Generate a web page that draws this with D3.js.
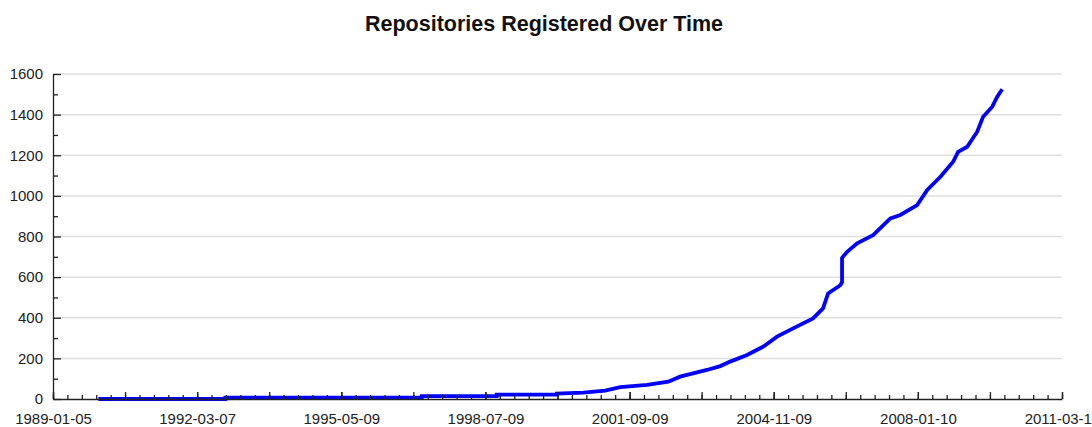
<!DOCTYPE html>
<html>
<head>
<meta charset="utf-8">
<script src="https://cdn.jsdelivr.net/npm/d3@7"></script>
<style>
  html, body { margin: 0; padding: 0; background: #fff; overflow: hidden; }
  svg { display: block; font-family: "Liberation Sans", Arial, sans-serif; }
</style>
</head>
<body>
<svg id="chart" width="1092" height="427"></svg>
<script>
// ---- data ----
const title = "Repositories Registered Over Time";
const dates = [
  "1990-01-04", "1992-10-20", "1992-10-20", "1997-02-13", "1997-02-13",
  "1998-10-08", "1998-10-08", "2000-02-03", "2000-02-03", "2000-09-01",
  "2001-02-24", "2001-06-25", "2002-01-26", "2002-07-16", "2002-10-19",
  "2003-05-22", "2003-09-06", "2003-11-25", "2004-04-08", "2004-08-14",
  "2004-12-05", "2005-04-13", "2005-09-20", "2005-12-09", "2006-01-19",
  "2006-04-27", "2006-05-11", "2006-05-11", "2006-06-21", "2006-09-09",
  "2007-01-15", "2007-06-03", "2007-08-22", "2008-01-04", "2008-03-25",
  "2008-07-09", "2008-10-19", "2008-11-28", "2009-02-09", "2009-04-30",
  "2009-06-17", "2009-08-29", "2009-10-08", "2009-11-17"
];
const counts = [
  0, 0, 7, 7, 14,
  14, 22, 22, 27, 31,
  41, 58, 69, 85, 110,
  143, 162, 184, 217, 257,
  307, 348, 397, 446, 520,
  560, 575, 695, 725, 766,
  807, 889, 906, 955, 1029,
  1094, 1168, 1217, 1242, 1316,
  1390, 1439, 1488, 1525
];
const xTickLabels = ["1989-01-05", "1992-03-07", "1995-05-09", "1998-07-09",
                     "2001-09-09", "2004-11-09", "2008-01-10", "2011-03-12"];
const yTickValues = [0, 200, 400, 600, 800, 1000, 1200, 1400, 1600];
const yMinorValues = [100, 300, 500, 700, 900, 1100, 1300, 1500];

// ---- layout ----
const svg = d3.select("#chart");
const plotL = 53, plotR = 1062, plotT = 74, plotB = 399;
const parse = d3.utcParse("%Y-%m-%d");
const data = dates.map((d, i) => ({ date: parse(d), value: counts[i] }));
const labelDates = xTickLabels.map(parse);

const x = d3.scaleUtc()
  .domain([labelDates[0], labelDates[labelDates.length - 1]])
  .range([plotL, plotR]);
const y = d3.scaleLinear().domain([0, 1600]).range([plotB, plotT]);

const axisColor = "#222";
const fontSize = 15;

// title
svg.append("text")
  .attr("x", 544).attr("y", 31)
  .attr("text-anchor", "middle")
  .attr("font-size", 21.5).attr("font-weight", "bold")
  .attr("fill", "#111")
  .text(title);

// gridlines
svg.append("g").selectAll("line")
  .data(yTickValues.filter(v => v > 0))
  .join("line")
  .attr("x1", plotL).attr("x2", plotR)
  .attr("y1", d => y(d)).attr("y2", d => y(d))
  .attr("stroke", "#dedede").attr("stroke-width", 1.5);

// data line
const line = d3.line()
  .x(d => x(d.date))
  .y(d => y(d.value))
  .curve(d3.curveLinear);
svg.append("path")
  .datum(data)
  .attr("fill", "none")
  .attr("stroke", "#0000ff")
  .attr("stroke-width", 3.8)
  .attr("stroke-linejoin", "miter")
  .attr("d", line);

// y axis (major ticks with labels, inward)
svg.append("g")
  .attr("transform", `translate(${plotL},0)`)
  .call(d3.axisLeft(y).tickValues(yTickValues).tickSizeInner(-8).tickSizeOuter(0).tickPadding(10).tickFormat(d3.format("d")));
// y minor ticks
svg.append("g")
  .attr("transform", `translate(${plotL},0)`)
  .call(d3.axisLeft(y).tickValues(yMinorValues).tickSizeInner(-5).tickSizeOuter(0).tickFormat(""))
  .call(g => g.select(".domain").remove());

// x axis minor ticks (10 per label interval)
const t0 = +labelDates[0], t1 = +labelDates[labelDates.length - 1];
const nInt = (xTickLabels.length - 1);
const minorDates = d3.range(nInt * 10 + 1).map(i => new Date(t0 + i * (t1 - t0) / (nInt * 10)));
const midDates = d3.range(nInt * 2 + 1).map(i => new Date(t0 + i * (t1 - t0) / (nInt * 2)));
svg.append("g")
  .attr("transform", `translate(0,${plotB})`)
  .call(d3.axisBottom(x).tickValues(minorDates).tickSizeInner(-4).tickSizeOuter(0).tickFormat(""))
  .call(g => g.select(".domain").remove());
svg.append("g")
  .attr("transform", `translate(0,${plotB})`)
  .call(d3.axisBottom(x).tickValues(midDates).tickSizeInner(-7).tickSizeOuter(0).tickFormat(""))
  .call(g => g.select(".domain").remove());
// x axis with labels
svg.append("g")
  .attr("transform", `translate(0,${plotB})`)
  .call(d3.axisBottom(x).tickValues(labelDates).tickSizeInner(-7).tickSizeOuter(0).tickPadding(14)
    .tickFormat((d, i) => xTickLabels[i]));

svg.selectAll(".domain").attr("stroke", axisColor).attr("stroke-width", 1.3);
svg.selectAll(".tick line").attr("stroke", axisColor).attr("stroke-width", 1.3);
svg.selectAll(".tick text")
  .attr("font-size", fontSize)
  .attr("font-family", "'Liberation Sans', Arial, sans-serif")
  .attr("fill", "#222");
</script>
</body>
</html>
